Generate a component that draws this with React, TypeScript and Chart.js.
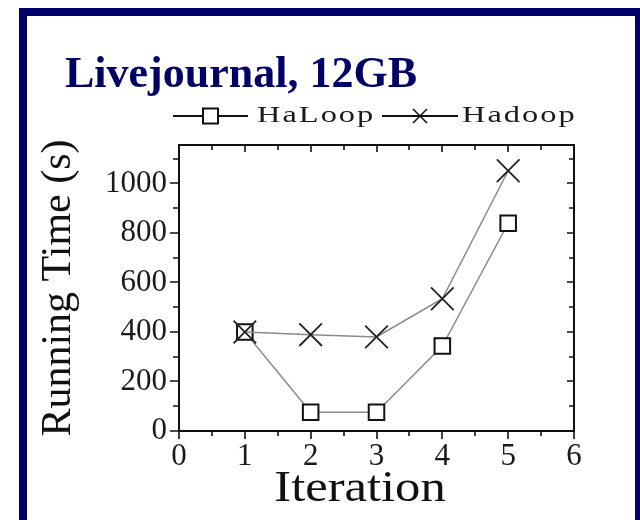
import React, { useEffect, useRef } from 'react';
import { Chart, registerables } from 'chart.js';

Chart.register(...registerables);

// ---- data ----
const iterations = [1, 2, 3, 4, 5];
const haloopTimes = [400, 76, 76, 343, 839];
const hadoopTimes = [400, 389, 380, 534, 1051];
const seriesNames = ['HaLoop', 'Hadoop'];
const xMajorTicks = [0, 1, 2, 3, 4, 5, 6];
const xMinorTicks = [0.5, 1.5, 2.5, 3.5, 4.5, 5.5];
const yMajorTicks = [0, 200, 400, 600, 800, 1000];
const yMinorTicks = [100, 300, 500, 700, 900, 1100];
const chartTitle = 'Livejournal, 12GB';
const xTitle = 'Iteration';
const yTitle = 'Running Time (s)';

const SERIF = "'Liberation Serif', 'Times New Roman', serif";
const NAVY = '#000066';

const frameTicks = {
  id: 'frameTicks',
  afterDatasetsDraw(chart: any) {
    const { ctx, chartArea, scales } = chart;
    const { left, right, top, bottom } = chartArea;
    const x = scales.x;
    const y = scales.y;
    ctx.save();
    ctx.strokeStyle = '#111';
    ctx.lineWidth = 2;
    ctx.strokeRect(left, top, right - left, bottom - top);
    ctx.lineWidth = 1.6;
    ctx.beginPath();
    const yTick = (v: number, major: boolean) => {
      const p = Math.round(y.getPixelForValue(v));
      ctx.moveTo(left, p);
      ctx.lineTo(left - (major ? 9 : 6), p);
      ctx.moveTo(right, p);
      ctx.lineTo(right - (major ? 7 : 5), p);
    };
    const xTick = (v: number, major: boolean) => {
      const p = Math.round(x.getPixelForValue(v));
      ctx.moveTo(p, bottom);
      ctx.lineTo(p, bottom + (major ? 8 : 5));
      ctx.moveTo(p, top);
      ctx.lineTo(p, top + (major ? 7 : 5));
    };
    yMajorTicks.forEach((v) => yTick(v, true));
    yMinorTicks.forEach((v) => yTick(v, false));
    xMajorTicks.forEach((v) => xTick(v, true));
    xMinorTicks.forEach((v) => xTick(v, false));
    ctx.stroke();
    ctx.restore();
  },
};

// x-axis title drawn slightly stretched, as in the scanned original
const xAxisTitle = {
  id: 'xAxisTitle',
  afterDraw(chart: any) {
    const ctx = chart.ctx;
    ctx.save();
    ctx.translate(333, 485);
    ctx.scale(1.15, 1);
    ctx.font = `44px ${SERIF}`;
    ctx.fillStyle = '#111';
    ctx.textAlign = 'center';
    ctx.textBaseline = 'alphabetic';
    ctx.fillText(xTitle, 0, 0);
    ctx.restore();
  },
};

const lineLegend = {
  id: 'lineLegend',
  afterDraw(chart: any) {
    const ctx = chart.ctx;
    const yc = 100;
    const items = [
      { x0: 146, x1: 221, tx: 230, name: seriesNames[0], marker: 'rect' },
      { x0: 355, x1: 431, tx: 435, name: seriesNames[1], marker: 'cross' },
    ];
    ctx.save();
    items.forEach((it) => {
      ctx.strokeStyle = '#111';
      ctx.lineWidth = 2;
      ctx.beginPath();
      ctx.moveTo(it.x0, yc);
      ctx.lineTo(it.x1, yc);
      ctx.stroke();
      const cx = (it.x0 + it.x1) / 2;
      if (it.marker === 'rect') {
        ctx.fillStyle = '#fff';
        ctx.fillRect(cx - 7.5, yc - 7.5, 15, 15);
        ctx.strokeRect(cx - 7.5, yc - 7.5, 15, 15);
      } else {
        ctx.lineWidth = 1.5;
        ctx.beginPath();
        ctx.moveTo(cx - 7, yc - 7);
        ctx.lineTo(cx + 7, yc + 7);
        ctx.moveTo(cx + 7, yc - 7);
        ctx.lineTo(cx - 7, yc + 7);
        ctx.stroke();
      }
      ctx.save();
      ctx.translate(it.tx, yc);
      ctx.scale(1.35, 1);
      ctx.font = `24px ${SERIF}`;
      (ctx as any).letterSpacing = '1.5px';
      ctx.fillStyle = '#1a1a1a';
      ctx.textAlign = 'left';
      ctx.textBaseline = 'middle';
      ctx.fillText(it.name, 0, 0);
      ctx.restore();
    });
    ctx.restore();
  },
};

export default function App() {
  const canvasRef = useRef<HTMLCanvasElement | null>(null);

  useEffect(() => {
    const canvas = canvasRef.current;
    if (!canvas) return;
    const chart = new Chart(canvas, {
      type: 'line',
      data: {
        datasets: [
          {
            label: seriesNames[0],
            data: iterations.map((it, i) => ({ x: it, y: haloopTimes[i] })),
            borderColor: '#8a8a8a',
            borderWidth: 1.5,
            pointStyle: 'rect',
            pointRadius: 11,
            pointBorderColor: '#111',
            pointBackgroundColor: '#fff',
            pointBorderWidth: 2,
            order: 1,
          },
          {
            label: seriesNames[1],
            data: iterations.map((it, i) => ({ x: it, y: hadoopTimes[i] })),
            borderColor: '#8a8a8a',
            borderWidth: 1.5,
            pointStyle: 'crossRot',
            pointRadius: 16,
            pointBorderColor: '#222',
            pointBackgroundColor: '#222',
            pointBorderWidth: 1.8,
            order: 0,
          },
        ],
      },
      options: {
        responsive: false,
        animation: false,
        events: [],
        layout: { padding: { left: 0, right: 61, top: 129, bottom: 3 } },
        plugins: {
          legend: { display: false },
          tooltip: { enabled: false },
          title: { display: false },
        },
        scales: {
          x: {
            type: 'linear',
            min: 0,
            max: 6,
            grid: { display: false, drawTicks: false },
            border: { display: false },
            ticks: {
              stepSize: 1,
              includeBounds: false,
              padding: 7,
              color: '#1a1a1a',
              font: { family: SERIF, size: 31, lineHeight: 1.2 },
              callback: (v: any) => String(v),
            },
            title: { display: false, text: xTitle },
            afterFit: (s: any) => {
              s.height = 86;
            },
          },
          y: {
            type: 'linear',
            min: 0,
            max: 1155,
            grid: { display: false, drawTicks: false },
            border: { display: false },
            ticks: {
              stepSize: 200,
              includeBounds: false,
              padding: 12,
              color: '#1a1a1a',
              font: { family: SERIF, size: 31, lineHeight: 1.2 },
              callback: (v: any) => String(v),
            },
            title: {
              display: true,
              text: yTitle,
              color: '#111',
              font: { family: SERIF, size: 42, lineHeight: 1.2 },
              padding: { top: 6.6, bottom: 0 },
            },
            afterFit: (s: any) => {
              s.width = 152;
            },
          },
        },
      },
      plugins: [frameTicks, lineLegend, xAxisTitle],
    } as any);
    return () => chart.destroy();
  }, []);

  return (
    <div
      style={{
        position: 'fixed',
        left: 19,
        top: 8,
        width: 608,
        height: 520,
        border: `8px solid ${NAVY}`,
        background: '#fff',
      }}
    >
      <div style={{ position: 'relative', width: 608, height: 520 }}>
        <div
          style={{
            position: 'absolute',
            left: 38,
            top: 35,
            margin: 0,
            fontFamily: SERIF,
            fontWeight: 'bold',
            fontSize: 44,
            lineHeight: '44px',
            color: NAVY,
            whiteSpace: 'nowrap',
          }}
        >
          {chartTitle}
        </div>
        <canvas
          ref={canvasRef}
          width={608}
          height={504}
          style={{ display: 'block', width: 608, height: 504 }}
        />
      </div>
    </div>
  );
}
